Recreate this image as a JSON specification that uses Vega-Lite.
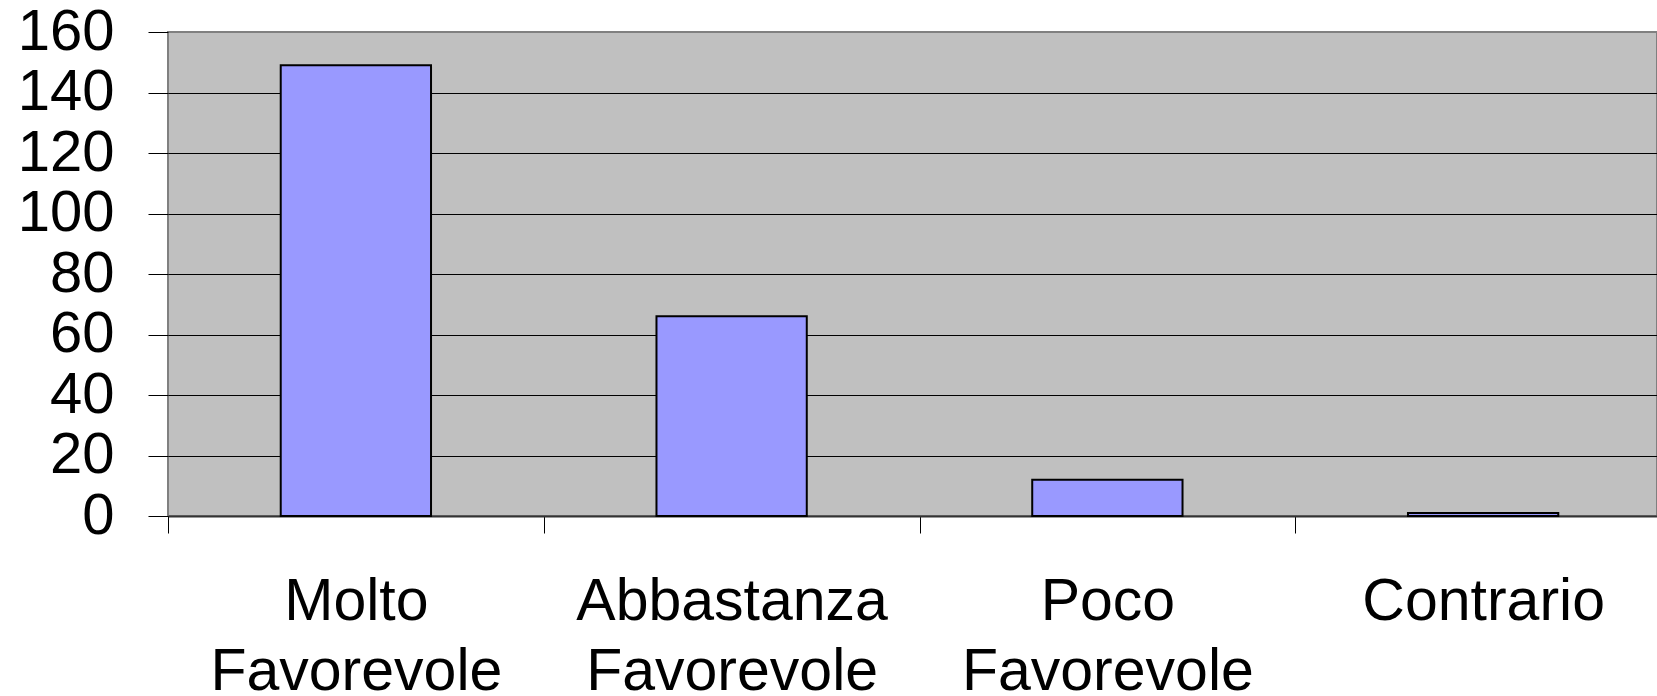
{
  "$schema": "https://vega.github.io/schema/vega-lite/v6.json",
  "autosize": {"type": "none"},
  "padding": {"left": 168, "top": 32, "right": 0, "bottom": 180},
  "width": 1489,
  "height": 484,
  "background": "white",
  "config": {
    "font": "Liberation Sans",
    "view": {"fill": "#C0C0C0", "stroke": "#808080", "strokeWidth": 2}
  },
  "data": {
    "values": [
      {"categoria": "Molto Favorevole", "valore": 149},
      {"categoria": "Abbastanza Favorevole", "valore": 66},
      {"categoria": "Poco Favorevole", "valore": 12},
      {"categoria": "Contrario", "valore": 1}
    ]
  },
  "mark": {"type": "bar", "fill": "#9999FF", "stroke": "#000000", "strokeWidth": 2, "width": {"band": 0.4}},
  "encoding": {
    "x": {
      "field": "categoria",
      "type": "nominal",
      "sort": null,
      "scale": {"paddingInner": 0, "paddingOuter": 0, "rangeMax": 1503},
      "axis": {
        "title": null,
        "tickBand": "extent",
        "labelAngle": 0,
        "labelFont": "Liberation Sans",
        "labelFontSize": 59,
        "labelColor": "#000000",
        "labelExpr": "split(datum.label, ' ')",
        "labelLineHeight": 70,
        "labelBaseline": "top",
        "labelPadding": 39,
        "labelLimit": 2000,
        "labelOverlap": false,
        "labelBound": false,
        "tickSize": 17,
        "tickColor": "#000000",
        "tickWidth": 1,
        "domainColor": "#333333",
        "domainWidth": 2,
        "grid": false
      }
    },
    "y": {
      "field": "valore",
      "type": "quantitative",
      "scale": {"domain": [0, 160], "nice": false},
      "axis": {
        "title": null,
        "values": [0, 20, 40, 60, 80, 100, 120, 140, 160],
        "labelFont": "Liberation Sans",
        "labelFontSize": 58,
        "labelColor": "#000000",
        "labelPadding": 34,
        "labelBaseline": "middle",
        "labelOverlap": false,
        "labelBound": false,
        "tickSize": 20,
        "tickColor": "#000000",
        "tickWidth": 1,
        "domain": false,
        "grid": true,
        "gridColor": {"condition": {"test": "datum.value == 160", "value": "#808080"}, "value": "#000000"},
        "gridWidth": 1
      }
    }
  }
}
